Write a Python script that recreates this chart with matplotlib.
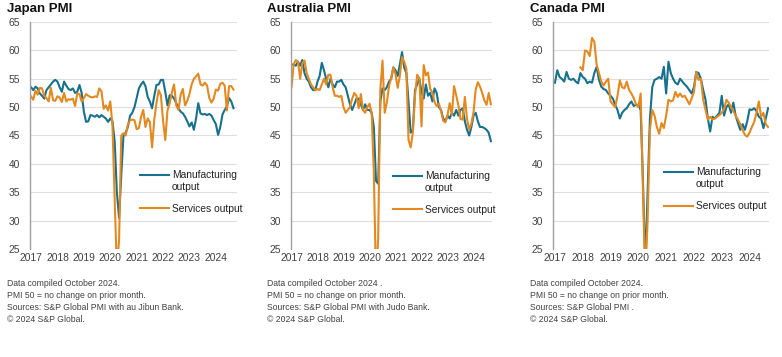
import numpy as np
import matplotlib
matplotlib.use("Agg")
import matplotlib.pyplot as plt
from matplotlib.legend_handler import HandlerLine2D

plt.rcParams['font.family'] = ['Liberation Sans', 'DejaVu Sans']

# ======================================================
# DATA (monthly, Jan 2017 - Sep 2024)
# ======================================================

YEARS = [2017, 2018, 2019, 2020, 2021, 2022, 2023, 2024]
Y_TICKS = [25, 30, 35, 40, 45, 50, 55, 60, 65]

jp_mfg = [
    53.5, 53.0, 53.6, 53.3, 52.4, 52.0, 51.5, 53.0, 53.5, 54.0, 54.5, 54.8,
    54.5, 53.5, 52.7, 54.5, 53.8, 53.2, 53.0, 53.3, 52.5, 52.7, 53.9, 52.5,
    49.2, 47.4, 47.5, 48.6, 48.5, 48.3, 48.6, 48.2, 48.6, 48.3, 48.0, 47.4,
    48.0, 47.5, 44.0, 35.0, 30.5, 38.0, 45.0, 45.5, 46.5, 48.5, 49.0, 50.0,
    51.6, 53.3, 54.0, 54.5, 53.7, 51.8, 51.0, 49.8, 52.0, 53.9, 54.0, 54.8,
    54.8, 52.7, 50.3, 52.1, 52.0, 51.5, 50.7, 49.8, 49.2, 48.9, 48.3, 47.5,
    46.6, 47.3, 46.0, 48.0, 50.7, 48.9, 48.7, 48.8, 48.6, 48.8, 48.5, 47.7,
    47.0, 45.1, 46.5, 48.7, 49.5, 50.1, 51.6, 51.0, 49.8,
]
jp_serv = [
    51.9, 51.3, 52.9, 52.2, 53.4, 53.3, 52.0, 51.6, 51.0, 53.4, 51.2, 51.1,
    51.9, 51.7, 50.9, 52.5, 51.0, 51.4, 51.3, 51.5, 50.2, 52.4, 52.3, 51.0,
    51.6, 52.3, 52.0, 51.8, 51.7, 51.9, 51.8, 53.3, 52.8, 49.7, 50.3, 49.4,
    51.0, 46.8, 33.8, 21.5, 26.5, 45.0, 45.4, 45.0, 46.9, 47.7, 47.8, 47.7,
    46.1, 46.3, 48.3, 49.5, 46.5, 48.0, 47.4, 42.9, 47.8, 50.7, 53.0, 52.1,
    47.6, 44.2, 49.4, 50.7, 52.6, 54.0, 50.3, 49.5, 52.2, 53.2, 50.3, 51.1,
    52.3, 54.0, 55.0, 55.4, 55.9, 54.0, 53.8, 54.3, 53.8, 51.6, 50.8, 51.5,
    53.1, 52.9, 54.1, 54.3, 53.8, 49.4, 53.7, 53.7, 53.1,
]

au_mfg = [
    57.5, 57.5, 57.3, 58.0, 57.3, 58.3, 56.0, 55.0, 54.5, 53.5, 53.0, 53.0,
    54.5, 55.5, 57.8, 56.5, 55.0, 53.5, 55.0, 54.0, 53.5, 54.5, 54.5, 54.8,
    54.0, 53.5, 52.0, 50.5, 49.5, 50.5, 51.5, 51.5, 50.5, 49.5, 50.5, 49.5,
    49.5, 49.0, 46.5, 37.0, 36.5, 51.0, 53.3, 53.0, 53.5, 54.5, 55.0, 57.0,
    56.5, 55.5, 57.5, 59.7, 57.0, 56.0, 51.0, 45.5, 46.0, 53.0, 54.0, 55.0,
    52.7, 51.5, 54.0, 52.0, 52.5, 51.0, 53.3, 52.5, 50.0, 49.5, 48.0, 47.5,
    48.5, 48.0, 49.0, 48.5, 49.5, 48.5, 49.5, 49.8, 47.5, 46.0, 45.0, 46.5,
    48.5, 49.0, 47.5, 46.5, 46.5, 46.3, 46.0, 45.5, 44.0,
]
au_serv = [
    53.5, 57.5, 58.3, 58.0, 55.0, 57.7, 58.2, 56.0, 55.0, 54.0, 53.5, 53.0,
    53.2, 53.0, 54.0, 55.0, 54.0, 55.7, 55.7, 53.5, 52.0, 52.0, 51.8, 52.0,
    50.0, 49.0, 49.5, 50.0, 51.5, 52.5, 52.0, 49.8, 52.3, 49.5, 49.0, 50.0,
    50.6, 49.0, 38.5, 19.5, 26.9, 53.1, 58.2, 49.0, 50.8, 53.7, 55.1, 57.0,
    55.8, 53.4, 55.5, 58.8, 58.0, 56.8, 44.2, 42.9, 45.5, 52.0, 55.7, 55.1,
    46.6, 57.4, 55.6, 56.1, 53.2, 52.6, 50.9, 50.2, 50.6, 49.3, 47.6, 47.3,
    48.6, 50.7, 48.6, 53.7, 52.1, 50.3, 47.9, 47.8, 51.8, 47.9, 46.0, 47.1,
    49.1, 53.1, 54.4, 53.6, 52.5, 51.2, 50.4, 52.5, 50.5,
]

ca_mfg = [
    54.3, 56.5, 55.3, 55.0, 54.5, 56.2, 55.0, 54.8, 55.0, 54.5, 54.2, 56.0,
    55.3, 55.0, 54.2, 54.5, 54.3, 56.0, 57.1, 54.8, 53.6, 53.2, 53.0, 52.4,
    52.0, 51.5, 50.4, 49.5, 48.0, 49.0, 49.5, 49.8, 50.5, 51.0, 50.2, 50.4,
    50.4, 49.5, 37.0, 22.0, 35.0, 48.0, 53.5, 54.8, 55.0, 55.3, 55.0, 57.1,
    52.4, 58.0, 56.0, 55.0, 54.3, 54.0, 55.0, 54.5, 54.0, 53.6, 53.0, 52.4,
    53.5, 56.2, 56.0, 55.0, 53.0, 51.3, 48.0, 45.7, 48.3, 48.0, 48.5, 49.0,
    52.0, 48.5, 50.0, 50.5, 49.0, 50.8, 48.5, 47.2, 46.0, 47.0, 46.0, 47.5,
    49.6, 49.5, 49.8, 49.3, 48.3, 48.0, 46.3, 48.0, 49.8,
]
ca_serv = [
    np.nan, np.nan, np.nan, np.nan, np.nan, np.nan, np.nan, np.nan, np.nan, np.nan, np.nan, 57.0,
    56.5, 60.0, 59.8, 59.0, 62.2, 61.5, 57.5, 56.0, 54.5, 53.8, 54.5, 55.0,
    51.0, 50.5, 50.0, 52.0, 54.7, 53.5, 53.3, 54.5, 53.0, 52.4, 51.6, 50.5,
    50.0, 52.4, 35.0, 20.0, 30.0, 46.0, 49.5, 48.5, 46.5, 45.3, 47.2, 46.3,
    48.5, 51.3, 51.0, 51.2, 52.7, 51.8, 52.4, 51.8, 52.0, 51.3, 50.5, 51.5,
    52.7, 56.2, 54.8, 55.0, 51.3, 49.5, 47.8, 48.3, 47.8, 48.0, 48.3, 48.6,
    49.0, 49.6, 51.3, 50.8, 50.0, 49.3, 48.5, 47.8, 47.0, 46.0, 45.1, 44.8,
    45.5, 46.5, 47.4, 49.0, 51.0, 48.3, 49.0, 47.0, 46.5,
]

FOOT_TOP = ["Data compiled October 2024.", "PMI 50 = no change on prior month."]
FOOT_END = "\u00a9 2024 S&P Global."

PANELS = [
    dict(title="Japan PMI", mfg=jp_mfg, serv=jp_serv,
         foot=[FOOT_TOP[0], FOOT_TOP[1],
               "Sources: S&P Global PMI with au Jibun Bank.", FOOT_END]),
    dict(title="Australia PMI", mfg=au_mfg, serv=au_serv,
         foot=["Data compiled October 2024 .", FOOT_TOP[1],
               "Sources: S&P Global PMI with Judo Bank.", FOOT_END]),
    dict(title="Canada PMI", mfg=ca_mfg, serv=ca_serv,
         foot=[FOOT_TOP[0], FOOT_TOP[1],
               "Sources: S&P Global PMI .", FOOT_END]),
]

# layout (pixels of the 782x357 figure)
W, H = 782, 357
AX_LEFT = [30, 290.7, 553]
AX_RIGHT = [237, 492, 769]
XLIM = [(2016.96, 2024.80), (2016.97, 2024.71), (2016.93, 2024.70)]
TEXT_X = [7, 267, 530]
LEG_POS = [(0.531, 0.348), (0.508, 0.344), (0.514, 0.36)]

TEAL = '#17708c'
ORANGE = '#e3891f'
GREY_TXT = '#404040'
FS = 7.4


class TopLineHandler(HandlerLine2D):
    # put the line next to the first row of a two-row label
    def create_artists(self, legend, orig_handle, xdescent, ydescent,
                       width, height, fontsize, trans):
        arts = super().create_artists(legend, orig_handle, xdescent, ydescent,
                                      width, height, fontsize, trans)
        for a in arts:
            a.set_ydata(np.asarray(a.get_ydata()) + 0.6 * fontsize)
        return arts


fig = plt.figure(figsize=(W / 100, H / 100), dpi=100)
t = 2017 + np.arange(len(jp_mfg)) / 12.0

for k, p in enumerate(PANELS):
    left = AX_LEFT[k] / W
    width = (AX_RIGHT[k] - AX_LEFT[k]) / W
    ax = fig.add_axes([left, 1 - 249 / H, width, 227 / H])

    l1, = ax.plot(t, p['mfg'], color=TEAL, lw=1.5, label='Manufacturing\noutput')
    l2, = ax.plot(t, p['serv'], color=ORANGE, lw=1.5, label='Services output')

    ax.set_ylim(25, 65)
    ax.set_xlim(*XLIM[k])
    ax.set_yticks(Y_TICKS)
    ax.set_xticks(YEARS)
    ax.set_xticklabels([str(y) for y in YEARS])
    ax.grid(axis='y', color='#dedede', lw=0.8)
    ax.set_axisbelow(True)
    for s in ['top', 'right', 'bottom']:
        ax.spines[s].set_visible(False)
    ax.spines['left'].set_color('#a0a0a0')
    ax.spines['left'].set_linewidth(1.0)
    ax.tick_params(axis='both', length=0, labelsize=FS, colors=GREY_TXT)
    ax.tick_params(axis='y', pad=7)
    ax.tick_params(axis='x', pad=3)

    ax.legend(loc='upper left', bbox_to_anchor=LEG_POS[k], frameon=False,
              fontsize=FS, handlelength=2.8, handletextpad=0.3,
              labelspacing=1.2, borderpad=0, borderaxespad=0,
              labelcolor='#222222', handler_map={l1: TopLineHandler()})

    fig.text(TEXT_X[k] / W, 1 - 9 / H, p['title'], fontsize=9.5,
             fontweight='bold', va='center', ha='left', color='#111111')
    for j, line in enumerate(p['foot']):
        fig.text(TEXT_X[k] / W, 1 - (284 + 12 * j) / H, line, fontsize=6.2,
                 va='center', ha='left', color=GREY_TXT)

fig.savefig('out.png', dpi=100)
